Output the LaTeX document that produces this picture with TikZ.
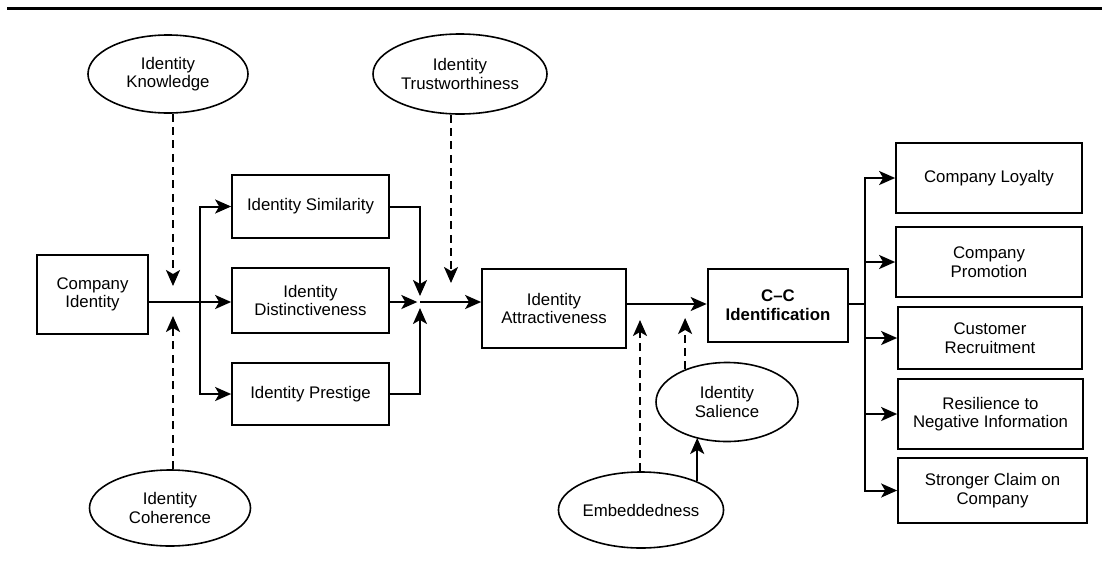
\documentclass[tikz,border=0pt]{standalone}
\usepackage{fontspec}
\setmainfont{Liberation Sans}
\usetikzlibrary{arrows.meta,shapes.geometric}
\begin{document}
\begin{tikzpicture}[x=0.75pt,y=-0.75pt,
  font=\fontsize{12.6}{14}\selectfont,
  box/.style 2 args={draw, line width=1.3pt, rectangle, align=center, minimum width=#1*0.75pt, minimum height=#2*0.75pt, inner sep=1pt},
  oval/.style 2 args={draw, line width=1.2pt, ellipse, align=center, minimum width=#1*0.75pt, minimum height=#2*0.75pt, inner sep=0pt},
  ln/.style={line width=1.5pt},
  arr/.style={line width=1.5pt, -{Stealth[length=12pt,width=10.5pt,inset=3pt]}},
  darr/.style={arr, dash pattern=on 6pt off 4pt},
]
\useasboundingbox (0,0) rectangle (1102,575);
\draw[line width=2.4pt] (7,8.5) -- (1102,8.5);

% boxes
\node[box={111}{79}] (ci) at (92.5,294.5) {Company\\Identity};
\node[box={157}{63}] (sim) at (310.5,206.5) {Identity Similarity};
\node[box={157}{65}] (dis) at (310.5,300.5) {Identity\\Distinctiveness};
\node[box={157}{62}] (pre) at (310.5,394) {Identity Prestige};
\node[box={144}{79}] (att) at (554,308.5) {Identity\\Attractiveness};
\node[box={140}{73}, line width=2pt, font=\fontsize{12.6}{14}\selectfont\bfseries] (cc) at (778,305.5) {C–C\\Identification};
\node[box={186}{70}] (loy) at (989,178) {Company Loyalty};
\node[box={186}{70}] (pro) at (989,262) {Company\\Promotion};
\node[box={184}{62}] (rec) at (990,338) {Customer\\Recruitment};
\node[box={185}{70}] (res) at (990.5,414) {Resilience to\\Negative Information};
\node[box={189}{65}] (str) at (992.5,490.5) {Stronger Claim on\\Company};

% ellipses
\node[oval={160}{78}] (kno) at (168,74) {Identity\\Knowledge};
\node[oval={174}{80}] (tru) at (460,74) {Identity\\Trustworthiness};
\node[oval={161}{76}] (coh) at (170,508) {Identity\\Coherence};
\node[oval={158}{76}] (emb) at (641,510) {Embeddedness};
\node[oval={142}{79}] (sal) at (727,402) {Identity\\Salience};

% left part
\coordinate (j1) at (200,302);
\coordinate (m) at (420,302);
\draw[ln] (ci.east |- j1) -- (j1);
\draw[arr] (j1) -- (dis.west |- j1);
\draw[arr] (j1) |- (sim.west);
\draw[arr] (j1) |- (pre.west);
\draw[arr, shorten >=4.5pt] (sim.east) -| (m);
\draw[arr, shorten >=4.5pt] (pre.east) -| (m);
\draw[arr, shorten >=2pt] (dis.east |- m) -- (m);
\draw[arr] (m) -- (att.west |- m);

\coordinate (k1) at (173,286);
\draw[darr] (kno.south -| k1) -- (k1);
\coordinate (c1) at (173,316);
\draw[darr] (coh.north -| c1) -- (c1);
\coordinate (t1) at (451,283);
\draw[darr] (tru.south -| t1) -- (t1);

% middle
\coordinate (r1) at (667,304);
\draw[arr] (att.east |- r1) -- (cc.west |- r1);
\coordinate (e1) at (640,320);
\draw[darr] (emb.north -| e1) -- (e1);
\coordinate (s1) at (686,318);
\draw[darr] (sal.142) -- (sal.142 |- s1);
\draw[arr] (emb.27) -- (emb.27 |- sal.228);

% outcomes
\coordinate (b1) at (865,304);
\draw[ln] (cc.east |- b1) -- (b1);
\draw[arr] (b1) |- (loy.west);
\draw[arr] (b1) |- (pro.west);
\draw[arr] (b1) |- (rec.west);
\draw[arr] (b1) |- (res.west);
\draw[arr] (b1) |- (str.west);
\end{tikzpicture}
\end{document}
